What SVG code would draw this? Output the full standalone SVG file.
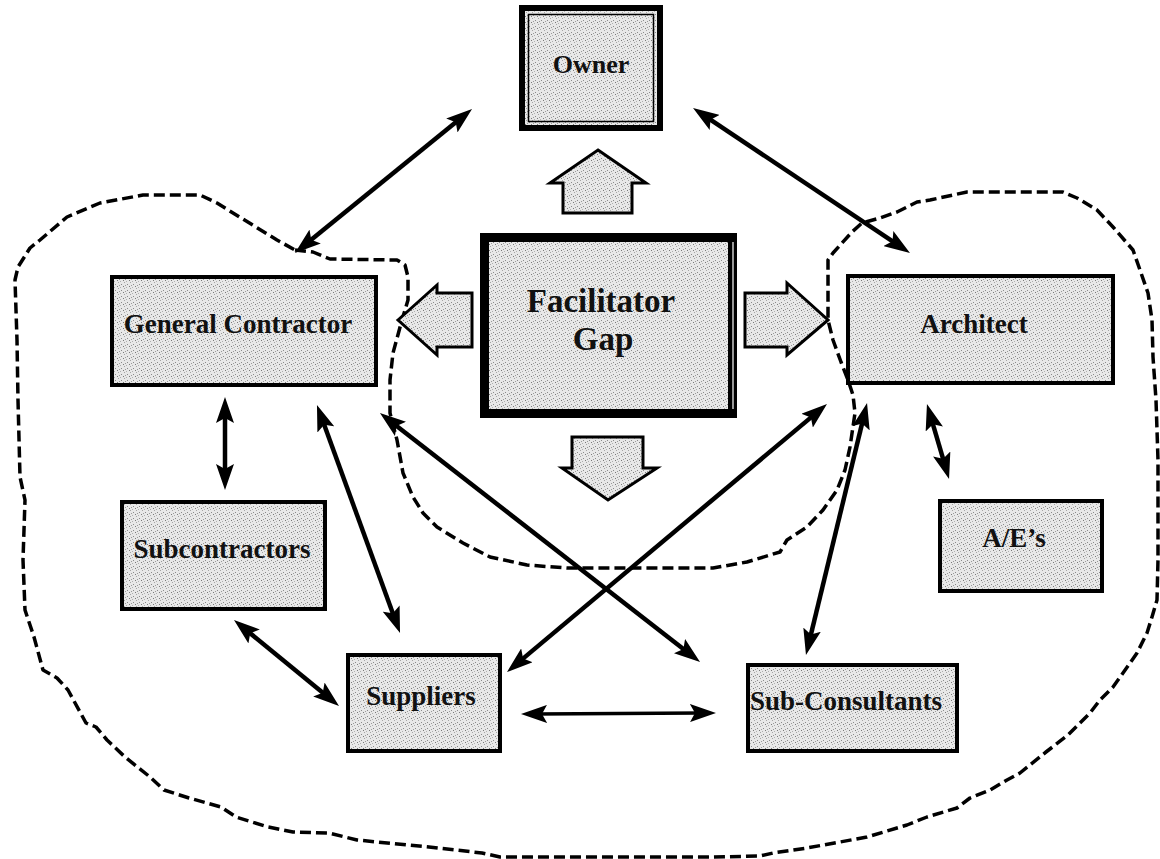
<svg xmlns="http://www.w3.org/2000/svg" width="1160" height="859" viewBox="0 0 1160 859">
  <defs>
    <!-- stippled grey fill used by every box and block arrow -->
    <pattern id="stipple" width="6" height="6" patternUnits="userSpaceOnUse">
      <rect width="6" height="6" fill="#e8e8e8"/>
      <rect x="1" y="2" width="1" height="1" fill="#8a8a8a"/>
      <rect x="4" y="0" width="1" height="1" fill="#a5a5a5"/>
      <rect x="3" y="4" width="1" height="1" fill="#7a7a7a"/>
      <rect x="0" y="5" width="1" height="1" fill="#b0b0b0"/>
      <rect x="5" y="3" width="1" height="1" fill="#9a9a9a"/>
    </pattern>
    <marker id="head" viewBox="0 0 26 18" markerWidth="26" markerHeight="18" refX="11" refY="9"
            orient="auto-start-reverse" markerUnits="userSpaceOnUse">
      <path d="M0,0 L26,9 L0,18 L5,9 z" fill="#000"/>
    </marker>
  </defs>
  <style>
    .box { fill: url(#stipple); stroke: #000; stroke-width: 4; }
    .block { fill: url(#stipple); stroke: #000; stroke-width: 3; stroke-linejoin: miter; }
    .lbl { font-family: "Liberation Serif", "Times New Roman", serif; font-weight: bold; font-size: 27px; fill: #111; text-anchor: middle; }
    .big { font-size: 33px; }
    .link { stroke: #000; stroke-width: 4.5; fill: none; marker-start: url(#head); marker-end: url(#head); }
    .boundary { fill: none; stroke: #000; stroke-width: 3.5; stroke-dasharray: 11 5; stroke-linejoin: round; }
  </style>

  <rect width="1160" height="859" fill="#fff"/>

  <!-- project team boundary -->
  <g id="boundary">
    <polyline class="boundary" points="295,250 313,252 330,259 397,260 405,265 408,277 408,300 402,320 393,353 390,380 390,413 397,440 403,473 413,497 423,513 437,527 463,543 490,557 527,565 567,568 713,568 747,562 780,552 787,540 807,527 823,510 837,490 845,470 850,447 855,413 853,395 848,380 841,362 833,340 828,320 828,260 833,253 852,232 862,223 880,218 897,212 917,202 930,200 967,192 1063,192 1077,198 1097,210 1113,227 1133,250 1140,270 1148,293 1152,320 1153,357 1156,400 1158,460 1158,560 1157,600 1152,617 1147,633 1137,653 1123,673 1113,687 1100,700 1090,713 1068,735 1046,752 1020,773 1007,780 990,790 970,798 957,808 927,817 907,825 897,828 867,837 840,842 807,848 773,853 760,856 713,857 560,857 500,857 482,853 429,847 357,840 329,833 293,832 268,827 236,817 221,807 189,798 164,790 150,777 125,757 107,740 96,727 86,723 68,690 57,678 43,670 34,637 25,610 23,560 25,500 20,477 18,400 17,340 15,280 18,267 30,248 40,240 67,217 100,203 143,195 200,195 217,203 233,213 277,240 295,250"/>
  </g>

  <!-- facilitator block arrows -->
  <g id="push-up">
    <polygon class="block" points="598,150 646,183 632,183 632,213 563,213 563,183 550,183"/>
  </g>
  <g id="push-down">
    <polygon class="block" points="572,437 643,437 643,468 657,468 608,500 562,468 572,468"/>
  </g>
  <g id="push-left">
    <polygon class="block" points="398,320 437,285 437,293 472,293 472,347 437,347 437,355"/>
  </g>
  <g id="push-right">
    <polygon class="block" points="828,320 787,355 787,347 745,347 745,293 787,293 787,283"/>
  </g>

  <!-- relationships -->
  <g id="connectors">
    <line class="link" x1="460.4" y1="118.5" x2="306.6" y2="243.5"/>
    <line class="link" x1="705.5" y1="116.3" x2="897.5" y2="244.7"/>
    <line class="link" x1="225" y1="412" x2="225" y2="475"/>
    <line class="link" x1="322.1" y1="419.1" x2="394.9" y2="618.9"/>
    <line class="link" x1="391.8" y1="422.2" x2="688.2" y2="652.8"/>
    <line class="link" x1="815.5" y1="413.6" x2="518.5" y2="662.4"/>
    <line class="link" x1="863.5" y1="417.6" x2="809.5" y2="640.4"/>
    <line class="link" x1="931.2" y1="418.4" x2="944.8" y2="464.6"/>
    <line class="link" x1="245.6" y1="629.5" x2="327.4" y2="696.5"/>
    <line class="link" x1="536" y1="714" x2="701" y2="713" style="stroke-width:3.5"/>
  </g>

  <!-- nodes -->
  <g id="owner">
    <rect x="522" y="8" width="138" height="120" fill="url(#stipple)" stroke="#000" stroke-width="6"/>
    <rect x="528.5" y="14.5" width="125" height="107" fill="none" stroke="#000" stroke-width="1.5"/>
    <text class="lbl" x="591" y="73" style="font-size:26px">Owner</text>
  </g>

  <g id="facilitator-gap">
    <rect x="484.5" y="237.5" width="248" height="176" fill="url(#stipple)" stroke="#000" stroke-width="9"/>
    <line x1="733" y1="242" x2="733" y2="409" stroke="#fff" stroke-width="1.2"/>
    <text class="lbl big" x="601" y="312">Facilitator</text>
    <text class="lbl big" x="603" y="350">Gap</text>
  </g>

  <g id="general-contractor">
    <rect class="box" x="112" y="277" width="264" height="108"/>
    <text class="lbl" x="238" y="333">General Contractor</text>
  </g>

  <g id="architect">
    <rect class="box" x="848" y="276" width="265" height="107"/>
    <text class="lbl" x="974" y="333">Architect</text>
  </g>

  <g id="subcontractors">
    <rect class="box" x="122" y="502" width="203" height="107"/>
    <text class="lbl" x="222" y="558">Subcontractors</text>
  </g>

  <g id="ae">
    <rect class="box" x="940" y="501" width="162" height="90"/>
    <text class="lbl" x="1014" y="547">A/E’s</text>
  </g>

  <g id="suppliers">
    <rect class="box" x="348" y="655" width="152" height="96"/>
    <text class="lbl" x="421" y="705">Suppliers</text>
  </g>

  <g id="sub-consultants">
    <rect class="box" x="748" y="665" width="209" height="86"/>
    <text class="lbl" x="846" y="710">Sub-Consultants</text>
  </g>
</svg>
